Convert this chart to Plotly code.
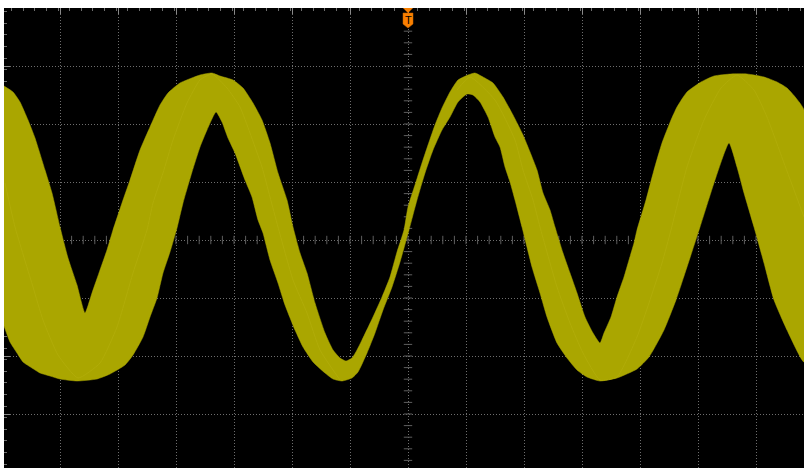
import numpy as np
import plotly.graph_objects as go

# Readings from the screen: column across, row down
upper_col = [4,13,20,28,35,45,52,60,68,77,85,92,100,107,113,122,130,140,150,160,168,180,200,212,220,233,243,253,262,270,278,287,293,300,307,315,325,333,340,346,352,357,362,373,382,390,397,404,408,415,422,427,435,442,450,458,468,475,483,493,503,513,523,530,537,543,550,555,563,570,577,585,593,600,604,611,617,624,629,634,637,646,654,662,671,677,687,701,714,731,747,764,777,787,796,804]
upper_row = [86,92,102,120,138,170,193,227,258,285,313,293,270,250,230,203,180,150,127,105,93,83,75,73,76,80,88,103,120,143,173,200,227,253,273,303,333,350,358,361,358,350,340,317,297,277,252,230,207,185,163,148,125,108,92,80,75,73,77,83,97,115,135,152,170,193,210,227,253,273,293,317,333,343,333,317,297,277,260,243,230,200,170,143,120,107,92,82,76,74,74,77,82,88,98,110]
lower_col = [4,10,17,23,32,40,50,60,77,97,110,125,133,143,150,157,163,170,177,183,192,200,207,216,222,228,235,245,252,258,263,270,278,285,295,303,313,325,333,342,352,358,367,375,383,392,400,409,417,425,433,442,450,458,467,473,480,488,495,500,505,510,515,522,532,540,547,557,567,577,587,600,617,637,649,664,676,687,700,716,729,737,744,754,764,774,787,804]
lower_row = [326,342,353,362,368,373,376,379,381,379,374,365,355,337,317,298,273,252,228,203,172,147,130,112,122,138,153,180,197,220,233,260,283,305,330,347,362,373,379,381,378,372,353,333,310,287,262,230,200,173,150,130,117,102,94,95,102,117,137,147,167,182,200,227,267,293,317,343,358,370,377,381,378,369,357,330,300,267,227,177,143,167,193,227,263,300,330,362]
streak_a_col = [5,15,33,43,58,78,100,117,133,147,153,163,173,187,200,212,227,240,250,262,270,278,293,307,320,340]
streak_a_row = [183,227,287,320,355,378,363,327,273,230,203,173,140,103,80,74,88,107,133,167,197,227,280,313,350,380]
streak_b_col = [457,470,495,515,523,533,540,557,570,583,600,617,637,649,662,671,687,704,721,737,754,767,784,804]
streak_b_row = [90,77,100,140,170,200,227,287,323,353,380,377,337,303,263,230,167,120,88,75,90,117,163,217]

trigger_col = 408
center_row = 240
grid_start_col = 60
grid_start_row = 8
div = 58
sub = div / 5
center_col_ticks = np.arange(4 + (grid_start_col - 4) % sub, 804, sub)
center_row_ticks = np.arange(grid_start_row, 468, sub)

BAND = "#aaa600"
STREAK = "#b1ac08"
GRID = "#6e6e6e"
ORANGE = "#f98000"

fig = go.Figure()
fig.add_trace(go.Scatter(x=center_col_ticks, y=[center_row] * len(center_col_ticks), mode="markers",
                         marker=dict(symbol="line-ns", size=6, line=dict(color="#5e5e5e", width=1)),
                         hoverinfo="skip"))
fig.add_trace(go.Scatter(x=[trigger_col] * len(center_row_ticks), y=center_row_ticks, mode="markers",
                         marker=dict(symbol="line-ew", size=6, line=dict(color="#5e5e5e", width=1)),
                         hoverinfo="skip"))
fig.add_trace(go.Scatter(
    x=upper_col + lower_col[::-1], y=upper_row + lower_row[::-1],
    mode="lines", fill="toself", fillcolor=BAND,
    line=dict(color=BAND, width=0.5, shape="spline", smoothing=0.5), hoverinfo="skip"))
fig.add_trace(go.Scatter(x=streak_a_col, y=streak_a_row, mode="lines",
                         line=dict(color=STREAK, width=1, shape="spline", smoothing=0.5), hoverinfo="skip"))
fig.add_trace(go.Scatter(x=streak_b_col, y=streak_b_row, mode="lines",
                         line=dict(color=STREAK, width=1, shape="spline", smoothing=0.5), hoverinfo="skip"))

axis_common = dict(
    showline=False, zeroline=False, showticklabels=False, showgrid=True,
    gridcolor=GRID, griddash="1px,2px", gridwidth=1, layer="below traces",
    ticks="inside", ticklen=6, tickcolor="#8a8a8a", tickwidth=1, dtick=div,
    minor=dict(dtick=sub, ticks="inside", ticklen=3, tickcolor="#6e6e6e", tickwidth=1, showgrid=False),
)
t = trigger_col
path = f"M {t-5} 13 L {t+5} 13 L {t+5} 24 L {t} 28 L {t-5} 24 Z"
head = f"M {t-5} 8 L {t+5} 8 L {t} 13 Z"
fig.update_layout(
    width=804, height=468, showlegend=False,
    margin=dict(l=4, r=0, t=8, b=0, pad=0),
    paper_bgcolor="white", plot_bgcolor="black",
    xaxis=dict(range=[4, 804], tick0=grid_start_col, side="top", **axis_common),
    yaxis=dict(range=[468, 8], tick0=grid_start_row, **axis_common),
    shapes=[
        dict(type="path", path=path, fillcolor=ORANGE, line=dict(color="#c86400", width=0.5), layer="above"),
        dict(type="path", path=head, fillcolor=ORANGE, line=dict(color=ORANGE, width=0), layer="above"),
    ],
    annotations=[dict(x=t, y=19.5, text="T", showarrow=False, xref="x", yref="y",
                      font=dict(family="Liberation Sans", size=11, color="black"))],
)
fig.write_html("out.html", config=dict(displayModeBar=False),
               post_script="document.body.style.margin='0';window.dispatchEvent(new Event('resize'));")
